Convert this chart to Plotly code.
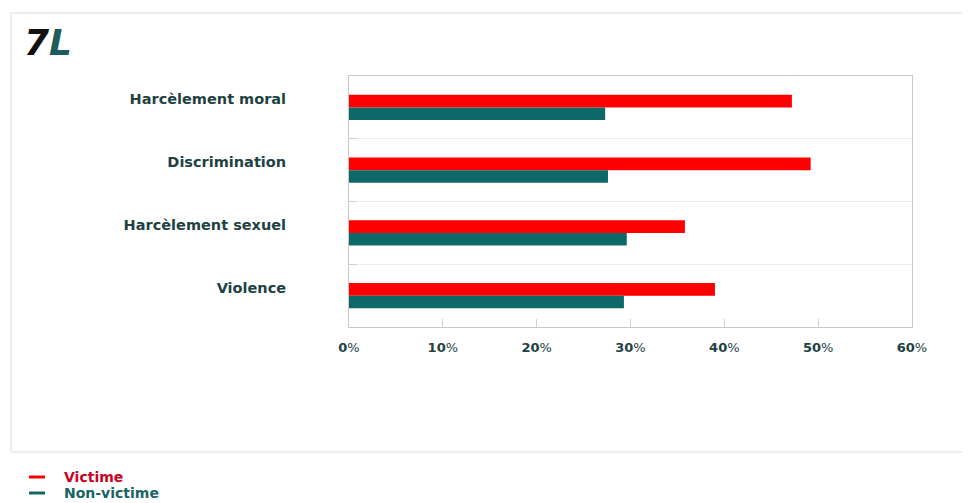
import plotly.graph_objects as go

categories = ["Harcèlement moral", "Discrimination", "Harcèlement sexuel", "Violence"]
victime = [0.472, 0.492, 0.358, 0.390]
non_victime = [0.273, 0.276, 0.296, 0.293]
tick_vals = [0, 0.1, 0.2, 0.3, 0.4, 0.5, 0.6]
tick_text = ["<b>0</b>%", "<b>10</b>%", "<b>20</b>%", "<b>30</b>%", "<b>40</b>%", "<b>50</b>%", "<b>60</b>%"]

OFF = 8  # page body margin
W, H = 970 - OFF, 503 - OFF
# plot area in screen pixels
PL, PR, PT, PB = 349, 912, 76, 327
ML, MR, MT, MB = PL - OFF, W - (PR - OFF), PT - OFF, H - (PB - OFF)
PW, PH = W - ML - MR, H - MT - MB

def px(x):
    return (x - OFF - ML) / PW

def py(y):
    return (H - MB - (y - OFF)) / PH

RED = "#ff0000"
TEAL = "#0f6868"
LABEL = "#1e4242"

fig = go.Figure()
fig.add_trace(go.Bar(y=categories, x=victime, orientation="h", name="Victime",
                     marker=dict(color=RED, line=dict(width=0)), showlegend=False))
fig.add_trace(go.Bar(y=categories, x=non_victime, orientation="h", name="Non-victime",
                     marker=dict(color=TEAL, line=dict(width=0)), showlegend=False))

fig.update_layout(
    width=W, height=H,
    margin=dict(l=ML, r=MR, t=MT, b=MB),
    paper_bgcolor="white", plot_bgcolor="white",
    barmode="group", bargap=0.6, bargroupgap=0,
    font=dict(family="DejaVu Sans", color=LABEL),
    xaxis=dict(range=[0, 0.6], tickvals=tick_vals, ticktext=tick_text,
               showgrid=False, zeroline=False, showline=True, mirror=True,
               linecolor="#c8c8c8", linewidth=1,
               ticks="inside", ticklen=8, tickcolor="#d0d0d0",
               tickfont=dict(size=13, color=LABEL, family="DejaVu Sans"),
               ticklabelstandoff=8),
    yaxis=dict(autorange="reversed", tickson="boundaries", showgrid=True,
               gridcolor="#eeeeee", showline=True, mirror=True,
               linecolor="#c8c8c8", linewidth=1,
               ticks="inside", ticklen=8, tickcolor="#d0d0d0",
               tickfont=dict(size=14.5, color=LABEL, family="DejaVu Sans"),
               ticklabelstandoff=59, ticklabelshift=8),
    showlegend=False,
)
fig.update_yaxes(ticktext=["<b>%s</b>" % c for c in categories], tickvals=categories)

# outer frame
fig.add_shape(type="rect", xref="paper", yref="paper",
              x0=px(11), x1=px(967), y0=py(452), y1=py(13),
              line=dict(color="#dddddd", width=1), fillcolor="rgba(0,0,0,0)", layer="below")

# logo
fig.add_annotation(xref="paper", yref="paper", x=px(22), y=py(43), xanchor="left", yanchor="middle",
                   text="<b><i><span style='color:#111111'>7</span><span style='color:#1f5c5c'>L</span></i></b>",
                   showarrow=False, font=dict(size=36, family="DejaVu Sans"))

# legend
for i, (name, col, tcol) in enumerate([("Victime", RED, "#cc0022"), ("Non-victime", TEAL, "#1a6464")]):
    yy = 477 + 16 * i
    fig.add_shape(type="line", xref="paper", yref="paper",
                  x0=px(29), x1=px(45), y0=py(yy), y1=py(yy),
                  line=dict(color=col, width=3))
    fig.add_annotation(xref="paper", yref="paper", x=px(62), y=py(yy), xanchor="left", yanchor="middle",
                       text="<b>%s</b>" % name, showarrow=False,
                       font=dict(size=14, color=tcol, family="DejaVu Sans"))

fig.write_html("out.html")
